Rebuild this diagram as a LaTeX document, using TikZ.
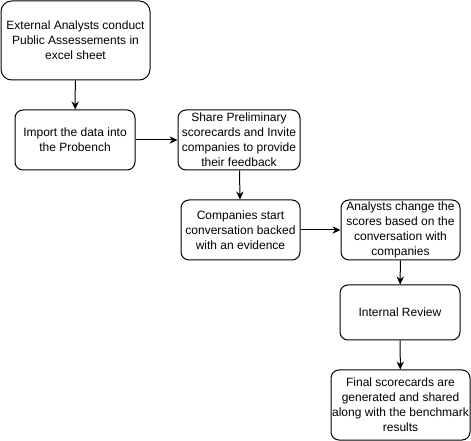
\documentclass[tikz,border=0pt]{standalone}
\usepackage{fontspec}
\setmainfont{Liberation Sans}
\usetikzlibrary{arrows.meta}

\begin{document}
\begin{tikzpicture}[x=0.75pt,y=-0.75pt,line width=0.75pt,>={Stealth[length=6pt,width=5.5pt]},
	box/.style={draw, rounded corners=6pt, align=center, inner sep=0pt,
		font=\fontsize{9}{11.25}\selectfont}]
	\useasboundingbox (0,0) rectangle (471,441);

	\node[box, rounded corners=8pt, minimum width=111.75pt, minimum height=59.25pt] (extern) at (75.5,40.5)
		{External Analysts conduct\\Public Assessements in\\excel sheet};
	\node[box, minimum width=90pt, minimum height=45pt] (import) at (75,140)
		{Import the data into\\the Probench};
	\node[box, minimum width=91.5pt, minimum height=45pt] (share) at (239,140)
		{Share Preliminary\\scorecards and Invite\\companies to provide\\their feedback};
	\node[box, minimum width=89.25pt, minimum height=45pt] (talk) at (240.5,230)
		{Companies start\\conversation backed\\with an evidence};
	\node[box, minimum width=89.25pt, minimum height=45pt] (change) at (400.5,230)
		{Analysts change the\\scores based on the\\conversation with\\companies};
	\node[box, minimum width=90pt, minimum height=41.25pt] (review) at (400,312.5)
		{Internal Review};
	\node[box, minimum width=104.25pt, minimum height=52.5pt] (final) at (400.5,405)
		{Final scorecards are\\generated and shared\\along with the benchmark\\results};

	\draw[->] (extern)--(import);
	\draw[->] (import)--(share);
	\draw[->] (share)--(talk);
	\draw[->] (talk)--(change);
	\draw[->] (change)--(review);
	\draw[->] (review)--(final);
\end{tikzpicture}
\end{document}
